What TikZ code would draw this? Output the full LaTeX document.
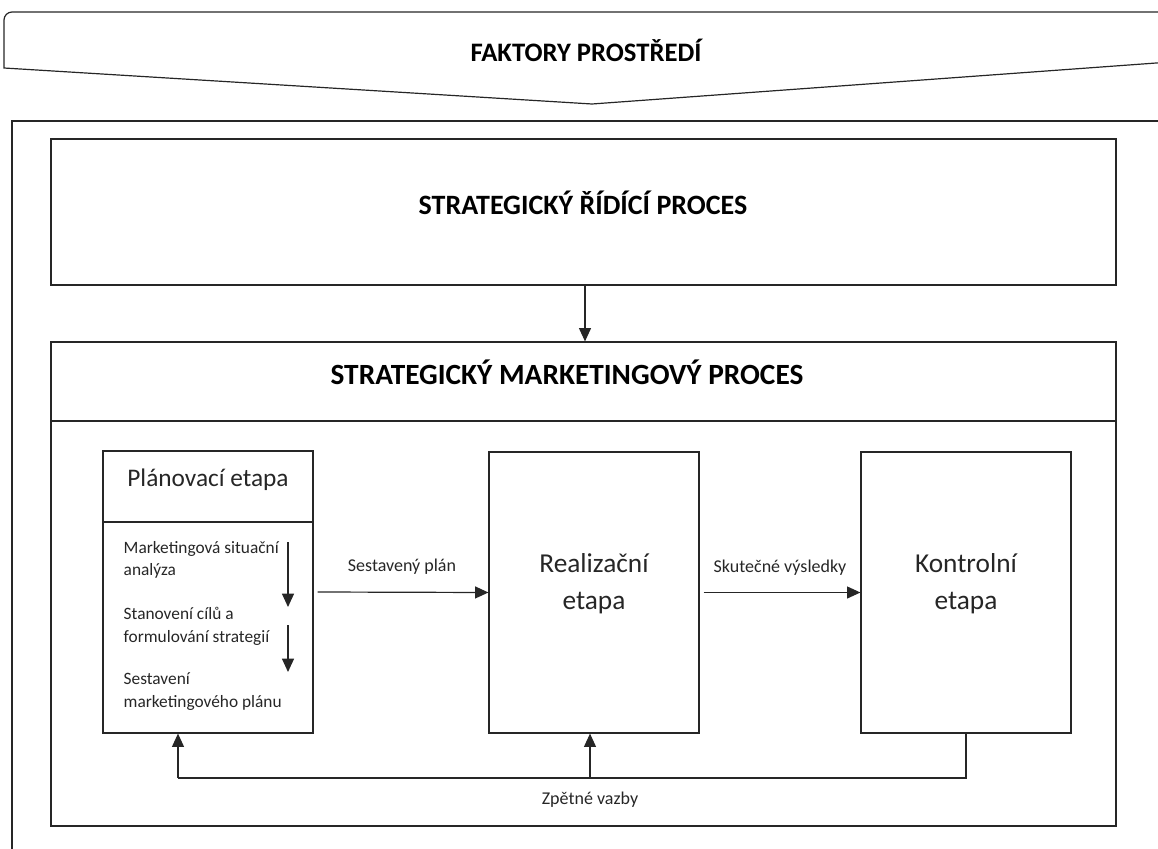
\documentclass[tikz,border=0pt]{standalone}
\usepackage{fontspec}
\setmainfont{Carlito}
\usetikzlibrary{arrows.meta,fit}
\begin{document}
\begin{tikzpicture}[x=0.75pt,y=-0.75pt,
  ln/.style={line width=0.9pt, draw=black!85},
  box/.style={ln, draw, rectangle, inner sep=0pt},
  arr/.style={ln, -{Triangle[length=10pt,width=9pt]}},
  hdr/.style={font=\bfseries\fontsize{20}{24}\selectfont},
  big/.style={font=\fontsize{20.5}{28}\selectfont, align=center, text=black!85},
  small/.style={font=\fontsize{13}{17}\selectfont, align=left, text=black!85},
  lbl/.style={font=\fontsize{13.5}{16}\selectfont, text=black!85}]
\useasboundingbox (0,0) rectangle (1158,849);
% environment chevron
\draw[ln] (1170,62) -- (592,104) -- (4,68) [rounded corners=6pt] -- (4,12) -- (1170,12);
\node[hdr] (env) at (586,50) {FAKTORY PROSTŘEDÍ};
% outer frame
\draw[ln] (1170,121) -- (12,121) -- (12,860);
% strategic management process
\coordinate (s1) at (51,139); \coordinate (s2) at (1116,285);
\node[box, fit=(s1)(s2)] (srp) {};
\node[hdr, font=\bfseries\fontsize{21}{25}\selectfont] (srpt) at (583,203) {STRATEGICKÝ ŘÍDÍCÍ PROCES};
% strategic marketing process
\coordinate (m1) at (51,342); \coordinate (m2) at (1116,826);
\node[box, fit=(m1)(m2)] (smp) {};
\draw[ln] (51,421) -- (1116,421);
\draw[line width=2pt, black!85] (51,342) -- (51,421);
\node[hdr, font=\bfseries\fontsize{22}{26}\selectfont] (smpt) at (567,372) {STRATEGICKÝ MARKETINGOVÝ PROCES};
\draw[arr] (srp.south -| 585,0) -- (smp.north -| 585,0);
% planning
\coordinate (p1) at (103,451); \coordinate (p2) at (313,733);
\node[box, fit=(p1)(p2)] (plan) {};
\draw[line width=2pt, black!85] (103,451) -- (313,451);
\draw[ln] (103,522) -- (313,522);
\node[big, font=\fontsize{19}{23}\selectfont] (plant) at (208,480) {Plánovací etapa};
\node[small, anchor=west] (pa) at (119,560) {Marketingová situační\\analýza};
\node[small, anchor=west] (pb) at (119,626.5) {Stanovení cílů a\\formulování strategií};
\node[small, anchor=west] (pc) at (119,691.5) {Sestavení\\marketingového plánu};
\coordinate (a1s) at (288,542); \coordinate (a1e) at (288,607);
\coordinate (a2s) at (288,625); \coordinate (a2e) at (288,672);
\draw[arr] (a1s) -- (a1e);
\draw[arr] (a2s) -- (a2e);
% realisation
\coordinate (r1) at (489,452); \coordinate (r2) at (699,733);
\node[box, fit=(r1)(r2)] (real) {};
\node[big] (realt) at (594,584) {Realizační\\etapa};
% control
\coordinate (k1) at (861,452); \coordinate (k2) at (1071,733);
\node[box, fit=(k1)(k2)] (kon) {};
\node[big] (kont) at (966,584) {Kontrolní\\etapa};
% forward arrows
\draw[arr] ([xshift=3pt]plan.east) -- (real.west);
\node[lbl] (l1) at (402,567) {Sestavený plán};
\draw[arr] ([xshift=3pt]real.east) -- (kon.west);
\node[lbl] (l2) at (780,568) {Skutečné výsledky};
% feedback
\coordinate (fbL) at (178,778);
\coordinate (fbM) at (590,778);
\draw[ln] (kon.south) -- (kon.south |- fbL) -- (fbL);
\draw[arr] (fbL) -- (fbL |- plan.south);
\draw[arr] (fbM) -- (fbM |- real.south);
\node[lbl] (l3) at (590,800) {Zpětné vazby};
\end{tikzpicture}
\end{document}
